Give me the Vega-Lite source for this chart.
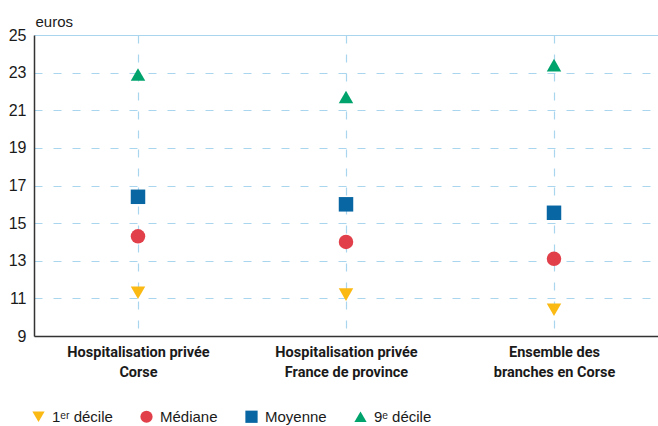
{
  "$schema": "https://vega.github.io/schema/vega-lite/v6.json",
  "width": 624,
  "height": 301,
  "autosize": "none",
  "padding": {"left": 34, "top": 35, "right": 0, "bottom": 90},
  "background": "white",
  "config": {
    "view": {"stroke": null},
    "font": "Liberation Sans"
  },
  "data": {
    "values": [
      {"cat": "Hospitalisation privée|Corse", "stat": "1ᵉʳ décile", "value": 11.3},
      {"cat": "Hospitalisation privée|Corse", "stat": "Médiane", "value": 14.3},
      {"cat": "Hospitalisation privée|Corse", "stat": "Moyenne", "value": 16.4},
      {"cat": "Hospitalisation privée|Corse", "stat": "9ᵉ décile", "value": 22.9},
      {"cat": "Hospitalisation privée|France de province", "stat": "1ᵉʳ décile", "value": 11.2},
      {"cat": "Hospitalisation privée|France de province", "stat": "Médiane", "value": 14.0},
      {"cat": "Hospitalisation privée|France de province", "stat": "Moyenne", "value": 16.0},
      {"cat": "Hospitalisation privée|France de province", "stat": "9ᵉ décile", "value": 21.7},
      {"cat": "Ensemble des|branches en Corse", "stat": "1ᵉʳ décile", "value": 10.4},
      {"cat": "Ensemble des|branches en Corse", "stat": "Médiane", "value": 13.1},
      {"cat": "Ensemble des|branches en Corse", "stat": "Moyenne", "value": 15.55},
      {"cat": "Ensemble des|branches en Corse", "stat": "9ᵉ décile", "value": 23.4}
    ]
  },
  "mark": {"type": "point", "filled": true, "opacity": 1, "size": 210},
  "encoding": {
    "x": {
      "field": "cat",
      "type": "nominal",
      "sort": null,
      "scale": {"paddingInner": 0, "paddingOuter": 0},
      "axis": {
        "title": null,
        "labelAngle": 0,
        "labelExpr": "split(datum.label, '|')",
        "labelFont": "Roboto",
        "labelFontWeight": "bold",
        "labelFontSize": 14.5,
        "labelLineHeight": 20,
        "labelColor": "#1a1a1a",
        "labelPadding": 9,
        "labelBaseline": "top",
        "ticks": false,
        "domainColor": "#333333",
        "domainWidth": 1.5,
        "grid": true,
        "bandPosition": 0.5,
        "gridColor": "#a9d5ef",
        "gridDash": [8, 11],
        "gridWidth": 1.2
      }
    },
    "y": {
      "field": "value",
      "type": "quantitative",
      "scale": {"domain": [9, 25], "nice": false, "zero": false},
      "axis": {
        "values": [9, 11, 13, 15, 17, 19, 21, 23, 25],
        "title": "euros",
        "titleAngle": 0,
        "titleX": 1,
        "titleY": -9,
        "titleAlign": "left",
        "titleBaseline": "alphabetic",
        "titleFontWeight": "normal",
        "titleFontSize": 15,
        "titleColor": "#1a1a1a",
        "labelFontSize": 16,
        "labelColor": "#1a1a1a",
        "labelPadding": 8,
        "ticks": false,
        "domainColor": "#333333",
        "domainWidth": 1.5,
        "grid": true,
        "gridColor": "#a9d5ef",
        "gridWidth": 1.2,
        "gridDash": {"condition": {"test": "datum.value === 25", "value": []}, "value": [8, 11]}
      }
    },
    "color": {
      "field": "stat",
      "type": "nominal",
      "scale": {
        "domain": ["1ᵉʳ décile", "Médiane", "Moyenne", "9ᵉ décile"],
        "range": ["#fbb914", "#e1404a", "#0866a3", "#00a36c"]
      },
      "legend": {
        "title": null,
        "orient": "none",
        "direction": "horizontal",
        "legendX": -3,
        "legendY": 374,
        "padding": 0,
        "symbolSize": 150,
        "labelFontSize": 15,
        "labelColor": "#1a1a1a",
        "labelOffset": 6,
        "columnPadding": 26,
        "symbolOpacity": 1
      }
    },
    "shape": {
      "field": "stat",
      "type": "nominal",
      "scale": {
        "domain": ["1ᵉʳ décile", "Médiane", "Moyenne", "9ᵉ décile"],
        "range": ["triangle-down", "circle", "square", "triangle-up"]
      },
      "legend": null
    }
  }
}
